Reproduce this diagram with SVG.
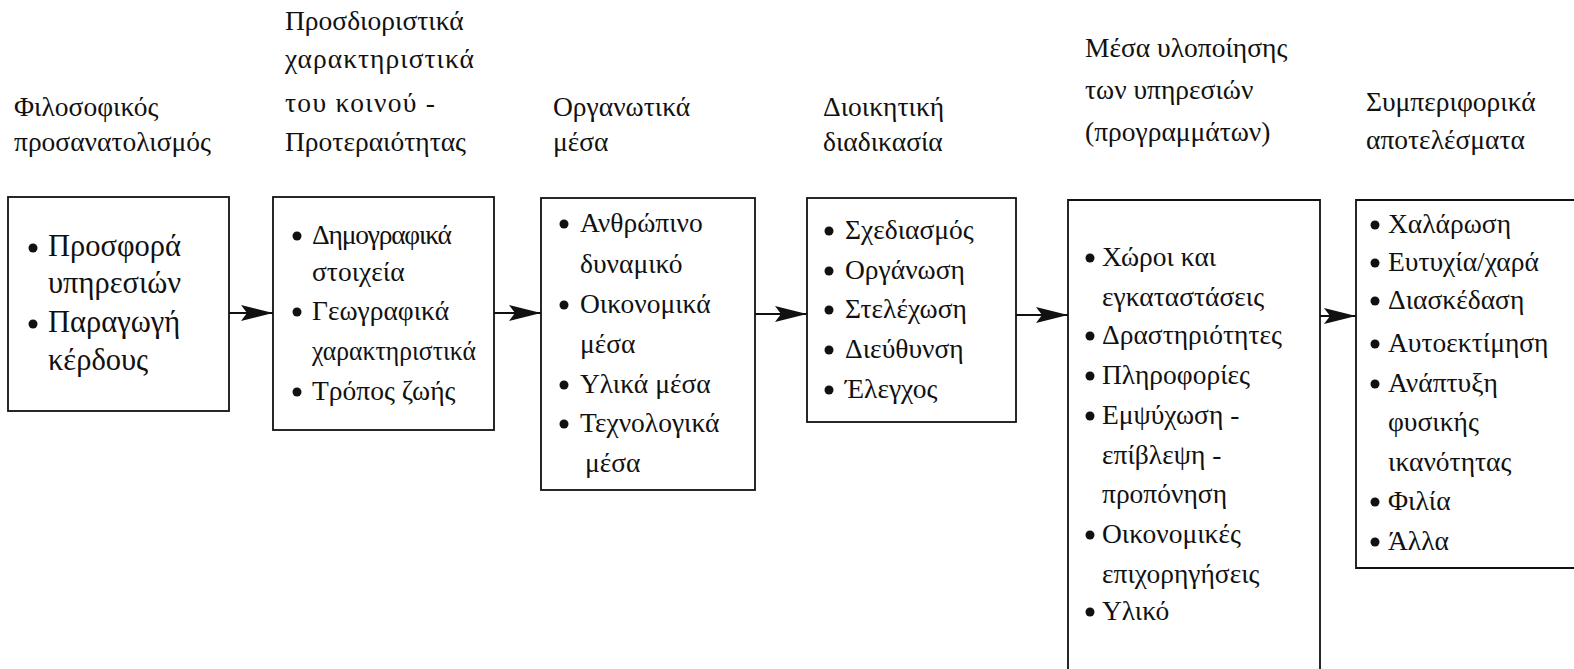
<svg xmlns="http://www.w3.org/2000/svg" width="1574" height="669" viewBox="0 0 1574 669">
<defs>
<style>
.box{fill:none;stroke:#111;stroke-width:1.8}
.t{font-family:"Liberation Serif","DejaVu Serif",serif;font-size:27.5px;fill:#111}
.big{font-size:30.5px}
.b{fill:#111}
.conn line{stroke:#111;stroke-width:1.8}
</style>
<marker id="ah" markerWidth="32" markerHeight="16" refX="32" refY="8" orient="auto" markerUnits="userSpaceOnUse">
<path d="M0,0 L32,8 L0,16 L6,8 Z" fill="#111"/>
</marker>
</defs>
<rect width="1574" height="669" fill="#fff"/>
<g id="headers" class="t">
<text x="14" y="116">Φιλοσοφικός</text>
<text x="14" y="151">προσανατολισμός</text>
<text x="285" y="30">Προσδιοριστικά</text>
<text x="285" y="68" textLength="189">χαρακτηριστικά</text>
<text x="285" y="112" textLength="150">του κοινού -</text>
<text x="285" y="151">Προτεραιότητας</text>
<text x="553" y="116">Οργανωτικά</text>
<text x="553" y="151">μέσα</text>
<text x="823" y="116">Διοικητική</text>
<text x="823" y="151">διαδικασία</text>
<text x="1085" y="57">Μέσα υλοποίησης</text>
<text x="1085" y="99">των υπηρεσιών</text>
<text x="1085" y="141">(προγραμμάτων)</text>
<text x="1366" y="111">Συμπεριφορικά</text>
<text x="1366" y="149">αποτελέσματα</text>
</g>
<g id="n1">
<rect class="box" x="8" y="197" width="221" height="214"/>
<g class="t big">
<circle class="b" cx="33" cy="248" r="4.5"/><text x="48" y="256">Προσφορά</text>
<text x="48" y="293">υπηρεσιών</text>
<circle class="b" cx="33" cy="324" r="4.5"/><text x="48" y="332">Παραγωγή</text>
<text x="48" y="370">κέρδους</text>
</g>
</g>
<g id="n2">
<rect class="box" x="273" y="197" width="221" height="233"/>
<g class="t">
<circle class="b" cx="297" cy="236" r="4.5"/><text x="312" y="244" textLength="140">Δημογραφικά</text>
<text x="312" y="281">στοιχεία</text>
<circle class="b" cx="297" cy="312" r="4.5"/><text x="312" y="320">Γεωγραφικά</text>
<text x="312" y="360" textLength="164" lengthAdjust="spacingAndGlyphs">χαρακτηριστικά</text>
<circle class="b" cx="297" cy="392" r="4.5"/><text x="312" y="400">Τρόπος ζωής</text>
</g>
</g>
<g id="n3">
<rect class="box" x="541" y="198" width="214" height="292"/>
<g class="t">
<circle class="b" cx="564" cy="224" r="4.5"/><text x="580" y="232">Ανθρώπινο</text>
<text x="580" y="273">δυναμικό</text>
<circle class="b" cx="564" cy="305" r="4.5"/><text x="580" y="313">Οικονομικά</text>
<text x="580" y="353">μέσα</text>
<circle class="b" cx="564" cy="385" r="4.5"/><text x="580" y="393">Υλικά μέσα</text>
<circle class="b" cx="564" cy="424" r="4.5"/><text x="580" y="432">Τεχνολογικά</text>
<text x="585" y="472">μέσα</text>
</g>
</g>
<g id="n4">
<rect class="box" x="807" y="198" width="209" height="224"/>
<g class="t">
<circle class="b" cx="829" cy="231" r="4.5"/><text x="845" y="239">Σχεδιασμός</text>
<circle class="b" cx="829" cy="271" r="4.5"/><text x="845" y="279">Οργάνωση</text>
<circle class="b" cx="829" cy="310" r="4.5"/><text x="845" y="318">Στελέχωση</text>
<circle class="b" cx="829" cy="350" r="4.5"/><text x="845" y="358">Διεύθυνση</text>
<circle class="b" cx="829" cy="390" r="4.5"/><text x="845" y="398">Έλεγχος</text>
</g>
</g>
<g id="n5">
<path class="box" d="M1068,672 V200 H1320 V672"/>
<g class="t">
<circle class="b" cx="1090" cy="258" r="4.5"/><text x="1102" y="266">Χώροι και</text>
<text x="1102" y="306">εγκαταστάσεις</text>
<circle class="b" cx="1090" cy="336" r="4.5"/><text x="1102" y="344">Δραστηριότητες</text>
<circle class="b" cx="1090" cy="376" r="4.5"/><text x="1102" y="384">Πληροφορίες</text>
<circle class="b" cx="1090" cy="416" r="4.5"/><text x="1102" y="424">Εμψύχωση -</text>
<text x="1102" y="464">επίβλεψη -</text>
<text x="1102" y="503">προπόνηση</text>
<circle class="b" cx="1090" cy="535" r="4.5"/><text x="1102" y="543">Οικονομικές</text>
<text x="1102" y="583">επιχορηγήσεις</text>
<circle class="b" cx="1090" cy="612" r="4.5"/><text x="1102" y="620">Υλικό</text>
</g>
</g>
<g id="n6">
<path class="box" d="M1576,200 H1356 V568 H1576"/>
<g class="t">
<circle class="b" cx="1375" cy="225" r="4.5"/><text x="1388" y="233">Χαλάρωση</text>
<circle class="b" cx="1375" cy="263" r="4.5"/><text x="1388" y="271">Ευτυχία/χαρά</text>
<circle class="b" cx="1375" cy="301" r="4.5"/><text x="1388" y="309">Διασκέδαση</text>
<circle class="b" cx="1375" cy="344" r="4.5"/><text x="1388" y="352">Αυτοεκτίμηση</text>
<circle class="b" cx="1375" cy="384" r="4.5"/><text x="1388" y="392">Ανάπτυξη</text>
<text x="1388" y="431">φυσικής</text>
<text x="1388" y="471">ικανότητας</text>
<circle class="b" cx="1375" cy="502" r="4.5"/><text x="1388" y="510">Φιλία</text>
<circle class="b" cx="1375" cy="542" r="4.5"/><text x="1388" y="550">Άλλα</text>
</g>
</g>
<g id="connectors" class="conn">
<line x1="229" y1="313" x2="273" y2="313" marker-end="url(#ah)"/>
<line x1="494" y1="313" x2="541" y2="313" marker-end="url(#ah)"/>
<line x1="755" y1="314" x2="807" y2="314" marker-end="url(#ah)"/>
<line x1="1016" y1="315" x2="1068" y2="315" marker-end="url(#ah)"/>
<line x1="1320" y1="316" x2="1356" y2="316" marker-end="url(#ah)"/>
</g>
</svg>
